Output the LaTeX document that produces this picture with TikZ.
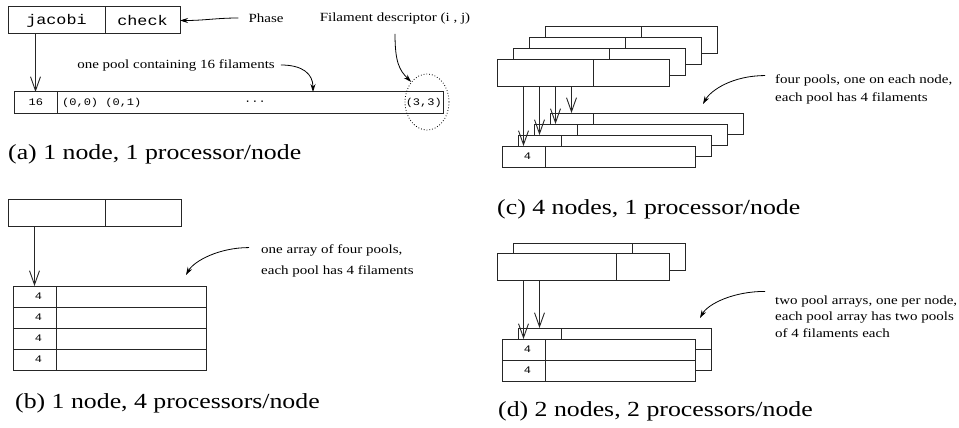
\documentclass[tikz,border=0pt]{standalone}
\usepackage{fontspec}
\setmainfont{Liberation Serif}[FakeStretch=1.2]
\setmonofont{Liberation Mono}[FakeStretch=1.2]
\usetikzlibrary{positioning,arrows.meta,shapes.geometric}

\begin{document}
\begin{tikzpicture}
[x=1pt,y=-1pt,
  phaseCell/.style={draw=black!85,fill=white,line width=1pt,inner sep=0pt,outer sep=0pt,
    anchor=north west,minimum height=27pt,minimum width=#1,font=\fontsize{14}{14}\ttfamily},%
  poolCell/.style={draw=black!85,fill=white,line width=1pt,inner sep=0pt,outer sep=0pt,
    anchor=north west,minimum height=21pt,minimum width=#1},%
  countCell/.style={poolCell=43pt,text width=15pt,align=right,inner xsep=14pt,
    font=\fontsize{10}{10}\ttfamily},%
  smallMono/.style={inner sep=0pt,font=\fontsize{10}{10}\ttfamily},%
  note/.style={inner sep=0pt,align=left,font=\fontsize{12.5}{15}\selectfont},%
  caption/.style={inner sep=0pt,anchor=west,font=\fontsize{21.5}{24}\selectfont},%
  ptr/.style={-{Straight Barb[length=14pt,width=10pt]},line width=0.9pt,draw=black!85},%
  curvy/.style={-{Stealth[length=8pt,width=5pt]},line width=0.8pt}]
\useasboundingbox (0,0) rectangle (959,428);

%% (a) one node, one processor
\node[phaseCell=97pt] (jacA) at (8,7) {jacobi};
\node[phaseCell=75pt,right=0pt of jacA] (chkA) {check};
\node[countCell] (cntA) at (14,92) {16};
\node[poolCell=386pt,right=0pt of cntA] (filA) {};
\node[smallMono,anchor=west] (firstA) at ([xshift=5pt]filA.west) {(0,0) (0,1)};
\node[smallMono] (dotsA) at (255,102.5) {···};
\node[smallMono,anchor=east] (lastA) at ([xshift=-1pt]filA.east) {(3,3)};
\node[draw,dotted,ellipse,line width=0.8pt,minimum width=44pt,minimum height=56pt] (descA) at (427,102) {};
\node[note] (phaseLbl) at (266,18) {Phase};
\node[note] (descLbl) at (395,18) {Filament descriptor (i , j)};
\node[note] (poolLbl) at (176,65) {one pool containing 16 filaments};
\coordinate (poolHit) at (313,92);
\draw[ptr] (jacA.south -| cntA) -- (cntA.north);
\draw[curvy] ([xshift=-10pt]phaseLbl.west) .. controls +(-22,0) and +(25,0) .. (chkA.east);
\draw[curvy] ([yshift=-10pt]descLbl.south) .. controls +(0,28) and +(-12,-12) .. (descA.north west);
\draw[curvy] ([xshift=6pt]poolLbl.east) .. controls +(22,0) and +(0,-18) .. (poolHit);
\node[caption] (capA) at (8,154) {(a) 1 node, 1 processor/node};

%% (b) one node, four processors
\node[phaseCell=97pt] (jacB) at (8,199) {};
\node[phaseCell=76pt,right=0pt of jacB] (chkB) {};
\foreach \i in {1,...,4}
{
  \node[countCell] (cntB\i) at (13,{286+21*(\i-1)}) {4};
  \node[poolCell=150pt,right=0pt of cntB\i] (filB\i) {};
}
\draw[ptr] (jacB.south -| cntB1) -- (cntB1.north);
\node[note,anchor=west,font=\fontsize{12.5}{21}\selectfont] (arrB) at (261,260.5)
  {one array of four pools,\\each pool has 4 filaments};
\coordinate (arrBHit) at (186,275);
\draw[curvy] ([xshift=-12pt,yshift=-3.5pt]arrB.north west) .. controls +(-30,0) and +(8,-14) .. (arrBHit);
\node[caption] (capB) at (15,403) {(b) 1 node, 4 processors/node};

%% (c) four nodes, one processor each
\foreach \k in {3,2,1}
{
  \node[phaseCell=96pt] (jacC\k) at ({497+16*\k},{60-11*\k}) {};
  \node[phaseCell=76pt,right=0pt of jacC\k] (chkC\k) {};
}
\node[phaseCell=96pt] (jacC0) at (497,60) {};
\node[phaseCell=76pt,right=0pt of jacC0] (chkC0) {};
\foreach \k in {3,2,1}
{
  \node[countCell] (cntC\k) at ({502+16*\k},{146-11*\k}) {};
  \node[poolCell=150pt,right=0pt of cntC\k] (filC\k) {};
}
\node[countCell] (cntC0) at (502,146) {4};
\node[poolCell=150pt,right=0pt of cntC0] (filC0) {};
\foreach \k in {0,...,3}
{
  \draw[ptr] (jacC0.south -| cntC\k) -- (cntC\k.north);
}
\node[note,anchor=west,font=\fontsize{12.5}{18}\selectfont] (arrC) at (775,89)
  {four pools, one on each node,\\each pool has 4 filaments};
\coordinate (arrCHit) at (703,104);
\draw[curvy] ([xshift=-10pt,yshift=-1.5pt]arrC.north west) .. controls +(-32,0) and +(8,-14) .. (arrCHit);
\node[caption] (capC) at (497,209) {(c) 4 nodes, 1 processor/node};

%% (d) two nodes, two processors each
\node[phaseCell=119pt] (jacD1) at (513,243) {};
\node[phaseCell=53pt,right=0pt of jacD1] (chkD1) {};
\node[phaseCell=119pt] (jacD0) at (497,253) {};
\node[phaseCell=53pt,right=0pt of jacD0] (chkD0) {};
\foreach \r in {1,2}
{
  \node[countCell] (cntDb\r) at (518,{328+21*(\r-1)}) {};
  \node[poolCell=150pt,right=0pt of cntDb\r] (filDb\r) {};
}
\foreach \r in {1,2}
{
  \node[countCell] (cntDa\r) at (502,{339+21*(\r-1)}) {4};
  \node[poolCell=150pt,right=0pt of cntDa\r] (filDa\r) {};
}
\draw[ptr] (jacD0.south -| cntDa1) -- (cntDa1.north);
\draw[ptr] (jacD0.south -| cntDb1) -- (cntDb1.north);
\node[note,anchor=west,font=\fontsize{12.5}{16.5}\selectfont] (arrD) at (775,316.5)
  {two pool arrays, one per node,\\each pool array has two pools\\of 4 filaments each};
\coordinate (arrDHit) at (700,318);
\draw[curvy] ([xshift=-10pt,yshift=4pt]arrD.north west) .. controls +(-32,0) and +(8,-14) .. (arrDHit);
\node[caption] (capD) at (498,411) {(d) 2 nodes, 2 processors/node};
\end{tikzpicture}
\end{document}
